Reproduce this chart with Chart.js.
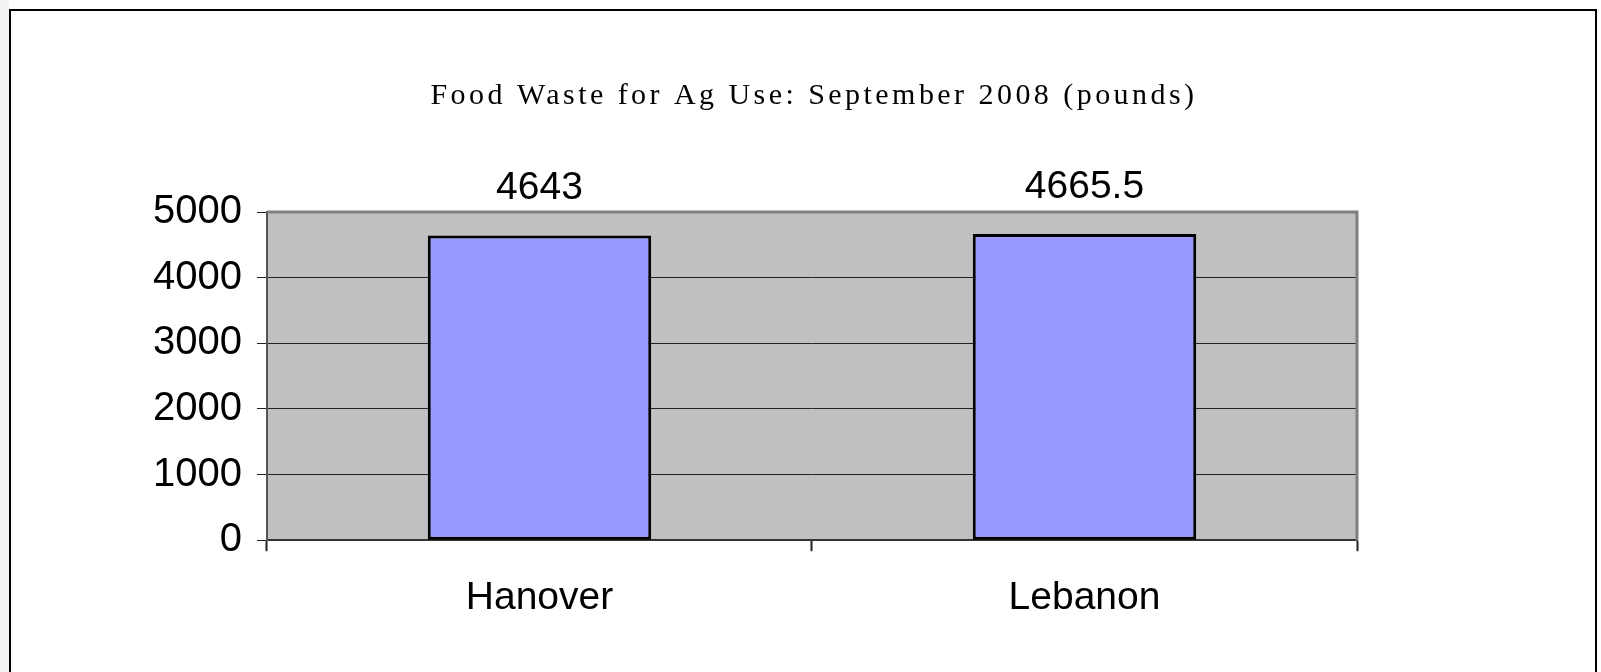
<!DOCTYPE html>
<html>
<head>
<meta charset="utf-8">
<script src="https://cdn.jsdelivr.net/npm/chart.js@4.4.1/dist/chart.umd.min.js"></script>
<style>
  html, body { margin: 0; padding: 0; background: #fff; overflow: hidden; }
  #strip { position: absolute; left: 0; top: 0; width: 9px; height: 672px; background: #f4f3f1; }
  #frame { position: absolute; left: 9px; top: 9px; width: 1588px; height: 700px;
           border: 2px solid #000; box-sizing: border-box; background: #fff; }
  #wrap { position: absolute; left: 0; top: 0; width: 1601px; height: 672px; }
</style>
</head>
<body>
<div id="strip"></div>
<div id="frame"></div>
<div id="wrap"><canvas id="wasteChart" width="1601" height="672"></canvas></div>
<script>
document.addEventListener("DOMContentLoaded", function () {

    const titleText = 'Food Waste for Ag Use: September 2008 (pounds)';
    const sites = ['Hanover', 'Lebanon'];
    const pounds = [4643, 4665.5];
    const yTicks = [0, 1000, 2000, 3000, 4000, 5000];

    const sans = "'Liberation Sans', Arial, sans-serif";

    // grey plot background, drawn under the grid
    const plotBack = {
        id: 'plotBack',
        beforeDraw(chart) {
            const a = chart.chartArea, ctx = chart.ctx;
            ctx.save();
            ctx.fillStyle = '#c0c0c0';
            ctx.fillRect(a.left, a.top, a.right - a.left, a.bottom - a.top);
            ctx.restore();
        },
        beforeDatasetsDraw(chart) {
            const a = chart.chartArea, ctx = chart.ctx;
            ctx.save();
            ctx.strokeStyle = '#808080';
            ctx.lineWidth = 3;
            ctx.beginPath();
            ctx.moveTo(a.left, a.top);
            ctx.lineTo(a.right, a.top);
            ctx.lineTo(a.right, a.bottom);
            ctx.stroke();
            ctx.restore();
        }
    };

    // value written above each bar
    const barValues = {
        id: 'barValues',
        afterDatasetsDraw(chart) {
            const ctx = chart.ctx;
            const meta = chart.getDatasetMeta(0);
            ctx.save();
            ctx.font = '39px ' + sans;
            ctx.fillStyle = '#000';
            ctx.textAlign = 'center';
            ctx.textBaseline = 'alphabetic';
            meta.data.forEach(function (bar, i) {
                ctx.fillText(String(pounds[i]), bar.x, bar.y - 36);
            });
            ctx.restore();
        }
    };

    // the title in the picture is widely spaced
    const spacedTitle = {
        id: 'spacedTitle',
        afterInit(chart) {
            const t = chart.titleBlock;
            if (!t) return;
            const orig = t.draw.bind(t);
            t.draw = function (area) {
                const ctx = chart.ctx;
                ctx.save();
                ctx.letterSpacing = '3.45px';
                ctx.translate(2, 0);
                orig(area);
                ctx.restore();
            };
        }
    };

    const ctx = document.getElementById('wasteChart');
    new Chart(ctx, {
        type: 'bar',
        data: {
            labels: sites,
            datasets: [{
                data: pounds,
                backgroundColor: '#9999ff',
                borderColor: '#000',
                borderWidth: 3,
                borderSkipped: false,
                barPercentage: 0.41,
                categoryPercentage: 1
            }]
        },
        options: {
            responsive: false,
            animation: false,
            events: [],
            layout: { padding: { left: 138, right: 244, top: 0, bottom: 26 } },
            plugins: {
                legend: { display: false },
                tooltip: { enabled: false },
                title: {
                    display: true,
                    fullSize: false,
                    text: titleText,
                    color: '#000',
                    font: { family: "'Liberation Serif', 'Times New Roman', serif", size: 30, weight: 'normal' },
                    padding: { top: 78, bottom: 98 }
                }
            },
            scales: {
                x: {
                    offset: true,
                    grid: {
                        display: true,
                        offset: true,
                        drawOnChartArea: false,
                        tickLength: 11,
                        tickColor: '#222',
                        tickWidth: 2
                    },
                    border: { color: '#333', width: 2 },
                    ticks: { color: '#000', padding: 24, font: { family: sans, size: 39 } }
                },
                y: {
                    min: 0,
                    max: 5000,
                    afterBuildTicks(scale) { scale.ticks = yTicks.map(v => ({ value: v })); },
                    grid: {
                        color: c => (c.tick && c.tick.value === 5000) ? 'rgba(0,0,0,0)' : '#222',
                        lineWidth: 1,
                        tickLength: 10,
                        tickColor: '#222'
                    },
                    border: { color: '#555', width: 2 },
                    ticks: {
                        color: '#000',
                        padding: 15,
                        font: { family: sans, size: 40 },
                        callback: v => String(v)
                    }
                }
            }
        },
        plugins: [plotBack, barValues, spacedTitle]
    });
});
</script>
</body>
</html>
